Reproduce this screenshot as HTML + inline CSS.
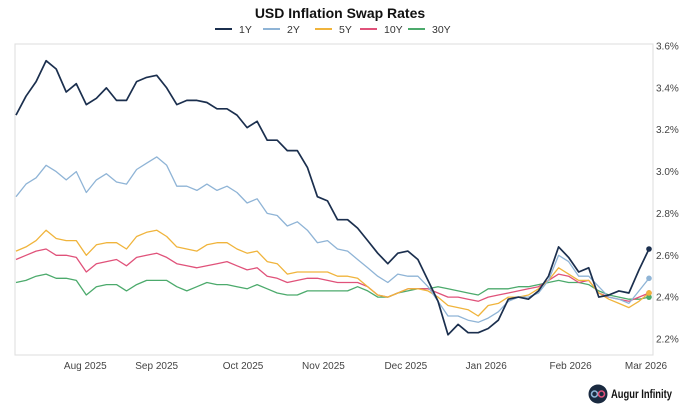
<!DOCTYPE html>
<html><head><meta charset="utf-8"><style>
body{margin:0;background:#fff;font-family:"Liberation Sans",sans-serif;}
svg{display:block}
</style></head><body>
<svg id="chart" width="680" height="411">
<text x="340" y="18" text-anchor="middle" font-size="14" font-weight="bold" fill="#111">USD Inflation Swap Rates</text>
<g id="legend"></g>
<rect x="15" y="44" width="638" height="311" fill="none" stroke="#ddd" stroke-width="1"/>
<g id="yaxis"></g>
<g id="xaxis"></g>
<g id="series"></g>
<g>
<circle cx="598" cy="394" r="9.5" fill="#1a2a40"/>
<circle cx="594.5" cy="394" r="3" fill="none" stroke="#8fb4d6" stroke-width="1.6"/>
<circle cx="601.5" cy="394" r="3" fill="none" stroke="#e0527a" stroke-width="1.6"/>
</g>
<text x="611" y="398" font-size="11.5" font-weight="bold" fill="#111" textLength="61" lengthAdjust="spacingAndGlyphs">Augur Infinity</text>
</svg>
<script>
const samples = Array.from({length:64},(_,i)=>i);
const s1Y=[3.27,3.36,3.43,3.53,3.49,3.38,3.42,3.32,3.35,3.40,3.34,3.34,3.43,3.45,3.46,3.40,3.32,3.34,3.34,3.33,3.30,3.30,3.27,3.21,3.24,3.15,3.15,3.10,3.10,3.02,2.88,2.86,2.77,2.77,2.73,2.67,2.61,2.56,2.61,2.62,2.58,2.48,2.38,2.22,2.27,2.23,2.23,2.25,2.29,2.39,2.40,2.39,2.43,2.50,2.64,2.59,2.52,2.54,2.40,2.41,2.43,2.42,2.53,2.63];
const s2Y=[2.88,2.94,2.97,3.03,3.00,2.96,3.00,2.90,2.96,2.99,2.95,2.94,3.01,3.04,3.07,3.03,2.93,2.93,2.91,2.94,2.91,2.93,2.90,2.85,2.87,2.80,2.79,2.74,2.76,2.72,2.66,2.67,2.63,2.62,2.58,2.54,2.50,2.47,2.51,2.50,2.50,2.45,2.38,2.31,2.31,2.29,2.28,2.30,2.33,2.38,2.40,2.40,2.42,2.48,2.60,2.57,2.50,2.50,2.45,2.40,2.39,2.37,2.43,2.49];
const s5Y=[2.62,2.64,2.67,2.72,2.68,2.67,2.67,2.60,2.65,2.66,2.66,2.63,2.69,2.71,2.72,2.69,2.64,2.63,2.62,2.65,2.66,2.66,2.63,2.61,2.62,2.57,2.56,2.51,2.52,2.52,2.52,2.52,2.50,2.50,2.49,2.45,2.41,2.40,2.42,2.44,2.44,2.43,2.40,2.36,2.35,2.34,2.31,2.36,2.37,2.40,2.40,2.41,2.44,2.48,2.54,2.51,2.48,2.48,2.42,2.39,2.37,2.35,2.38,2.42];
const s10Y=[2.58,2.60,2.62,2.63,2.60,2.60,2.59,2.52,2.56,2.57,2.58,2.55,2.59,2.60,2.61,2.59,2.56,2.55,2.54,2.55,2.56,2.57,2.55,2.53,2.54,2.50,2.49,2.47,2.48,2.49,2.49,2.48,2.47,2.47,2.47,2.45,2.41,2.40,2.42,2.44,2.44,2.44,2.42,2.40,2.40,2.39,2.38,2.40,2.41,2.42,2.43,2.44,2.45,2.48,2.51,2.50,2.47,2.48,2.42,2.40,2.39,2.38,2.40,2.42];
const s30Y=[2.47,2.48,2.50,2.51,2.49,2.49,2.48,2.41,2.45,2.46,2.46,2.43,2.46,2.48,2.48,2.48,2.45,2.43,2.45,2.47,2.46,2.46,2.45,2.44,2.46,2.44,2.42,2.41,2.41,2.43,2.43,2.43,2.43,2.43,2.45,2.43,2.40,2.40,2.42,2.43,2.44,2.44,2.45,2.44,2.43,2.42,2.41,2.44,2.44,2.44,2.45,2.45,2.46,2.47,2.48,2.47,2.47,2.46,2.43,2.41,2.40,2.39,2.39,2.40];
const seriesNames=["1Y","2Y","5Y","10Y","30Y"];
const yTicks=[2.2,2.4,2.6,2.8,3.0,3.2,3.4,3.6];
const xTickLabels=["Aug 2025","Sep 2025","Oct 2025","Nov 2025","Dec 2025","Jan 2026","Feb 2026","Mar 2026"];
const xTickSample=[6.9,14.0,22.6,30.6,38.8,46.8,55.2,62.7];

const NS="http://www.w3.org/2000/svg";
const colors=["#1b2f4e","#8fb4d6","#f0b43c","#e0527a","#4caa6c"];
const allSeries=[s1Y,s2Y,s5Y,s10Y,s30Y];
const xS=i=>16+i*(649-16)/(samples.length-1);
const yS=v=>46+(3.6-v)*(339-46)/1.4;
function mk(tag,attrs,parent){const e=document.createElementNS(NS,tag);for(const k in attrs)e.setAttribute(k,attrs[k]);parent.appendChild(e);return e;}

const ya=document.getElementById('yaxis');
yTicks.forEach(t=>{const tx=mk('text',{x:656,y:yS(t)+3.5,'font-size':10,fill:'#444'},ya);tx.textContent=t.toFixed(1)+'%';

});
const xa=document.getElementById('xaxis');
xTickLabels.forEach((l,i)=>{const tx=mk('text',{x:xS(xTickSample[i]),y:369,'font-size':10,fill:'#444','text-anchor':'middle'},xa);tx.textContent=l;

});

const sg=document.getElementById('series');
allSeries.slice().reverse().forEach((arr,ri)=>{const k=allSeries.length-1-ri;
const d=arr.map((v,i)=>(i?'L':'M')+xS(samples[i]).toFixed(1)+' '+yS(v).toFixed(1)).join(' ');
const p=mk('path',{d:d,fill:'none',stroke:colors[k],'stroke-width':k===0?1.7:1.3,'stroke-linejoin':'round'},sg);


const n=arr.length-1;
const c=mk('circle',{cx:xS(samples[n]),cy:yS(arr[n]),r:2.8,fill:colors[k]},sg);

});

const lg=document.getElementById('legend');
const lx=[215,263,315,360,408];
seriesNames.forEach((n,i)=>{const g=mk('g',{},lg);


mk('line',{x1:lx[i],x2:lx[i]+17,y1:29,y2:29,stroke:colors[i],'stroke-width':2},g);
const t=mk('text',{x:lx[i]+24,y:33,'font-size':10.5,fill:'#333'},g);t.textContent=n;});
</script>
</body></html>
